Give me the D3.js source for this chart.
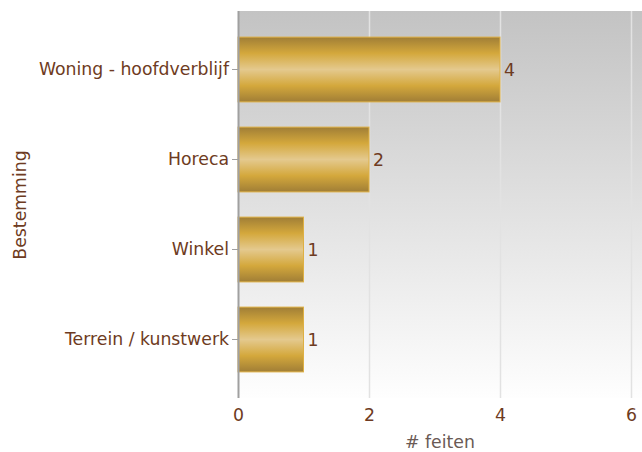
<!DOCTYPE html>
<html><head><meta charset="utf-8">
<script src="https://cdn.jsdelivr.net/npm/d3@7"></script>
<style>body{margin:0;background:#fff}svg{display:block}text{font-family:"DejaVu Sans",sans-serif}</style>
</head><body><svg id="c" width="642" height="452"></svg>
<script>
const categories = ["Woning - hoofdverblijf", "Horeca", "Winkel", "Terrein / kunstwerk"];
const values = [4, 2, 1, 1];
const xTicks = [0, 2, 4, 6];
const xTitle = "# feiten";
const yTitle = "Bestemming";

const FONT = "DejaVu Sans, sans-serif";
const FS = 17.3;
const svg = d3.select("#c");
const L = 238, R = 642, T = 11, B = 398;
const x = d3.scaleLinear().domain([0, 6]).range([L, 631]);
const y = d3.scaleBand().domain(categories).range([T, B]).paddingInner(0.28).paddingOuter(0.29);
const txt = "#6e3b22";

const defs = svg.append("defs");
const bg = defs.append("linearGradient").attr("id", "bg").attr("x1", 0).attr("y1", 0).attr("x2", 0).attr("y2", 1);
bg.append("stop").attr("offset", 0).attr("stop-color", "#c3c3c3");
bg.append("stop").attr("offset", 1).attr("stop-color", "#fefefe");
const bar = defs.append("linearGradient").attr("id", "bar").attr("x1", 0).attr("y1", 0).attr("x2", 0).attr("y2", 1);
[[0, "#a07e36"], [0.25, "#d4a83c"], [0.5, "#e4c98e"], [0.75, "#d4a83c"], [1, "#a07e36"]]
  .forEach(([o, c]) => bar.append("stop").attr("offset", o).attr("stop-color", c));

svg.append("rect").attr("x", L).attr("y", T).attr("width", R - L).attr("height", B - T).attr("fill", "url(#bg)");

// gridlines
svg.append("g").selectAll("line").data(xTicks.filter(d => d > 0)).join("line")
  .attr("x1", d => x(d) + 0.5).attr("x2", d => x(d) + 0.5).attr("y1", T).attr("y2", B)
  .attr("stroke", "#e2e2e2").attr("stroke-width", 1.5);

// bars
svg.append("g").selectAll("rect").data(values).join("rect")
  .attr("x", x(0)).attr("y", (d, i) => y(categories[i]))
  .attr("width", d => x(d) - x(0)).attr("height", y.bandwidth())
  .attr("fill", "url(#bar)").attr("stroke", "#deb044").attr("stroke-width", 1);

// value labels
svg.append("g").selectAll("text").data(values).join("text")
  .attr("x", d => x(d) + 4).attr("y", (d, i) => y(categories[i]) + y.bandwidth() / 2)
  .attr("dy", "0.35em").attr("fill", txt).attr("font-size", FS).text(d => d);

// y axis
const ya = svg.append("g").attr("transform", `translate(${L},0)`).call(d3.axisLeft(y).tickSize(6).tickPadding(3));
ya.select(".domain").remove();
ya.selectAll(".tick line").attr("stroke", "#a0a0a0");
ya.selectAll(".tick text").attr("fill", txt).attr("font-size", FS).attr("font-family", FONT);
svg.append("line").attr("x1", L + 0.5).attr("x2", L + 0.5).attr("y1", T).attr("y2", B).attr("stroke", "#a0a0a0").attr("stroke-width", 2);

// x axis
const xa = svg.append("g").attr("transform", `translate(0,${B})`)
  .call(d3.axisBottom(x).tickValues(xTicks).tickFormat(d3.format("d")).tickSize(0).tickPadding(11));
xa.select(".domain").remove();
xa.selectAll(".tick text").attr("fill", txt).attr("font-size", FS).attr("font-family", FONT);

svg.append("text").attr("x", 440).attr("y", 448).attr("text-anchor", "middle").attr("fill", "#6a5a55").attr("font-size", FS).text(xTitle);
svg.append("text").attr("transform", "translate(26,205) rotate(-90)").attr("text-anchor", "middle").attr("fill", txt).attr("font-size", FS).text(yTitle);
</script></body></html>
